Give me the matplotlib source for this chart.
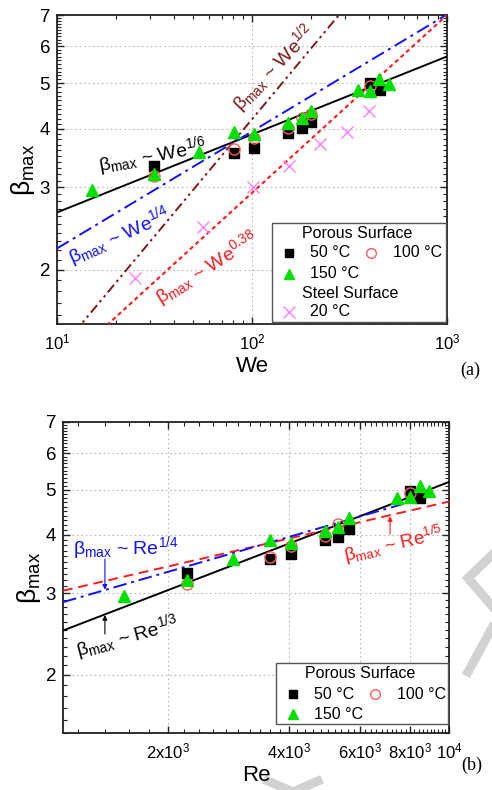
import matplotlib
matplotlib.use("Agg")
import matplotlib.pyplot as plt
import numpy as np
from matplotlib.ticker import FixedLocator, FixedFormatter, NullFormatter
from matplotlib.patches import Rectangle
from matplotlib.lines import Line2D

plt.rcParams['font.family'] = ['Liberation Sans', 'DejaVu Sans']
plt.rcParams['mathtext.fontset'] = 'custom'
plt.rcParams['mathtext.rm'] = 'Liberation Sans'
plt.rcParams['mathtext.it'] = 'Liberation Sans:italic'
plt.rcParams['mathtext.bf'] = 'Liberation Sans:bold'

# ---------------- data: panel (a) -----------------
we_50 = [31.4, 81, 102, 153, 180, 201, 403, 453]
b_we_50 = [3.33, 3.55, 3.63, 3.91, 4.01, 4.13, 5.00, 4.84]
we_100 = [31.4, 81, 102, 153, 180, 201, 403]
b_we_100 = [3.17, 3.62, 3.82, 4.01, 4.21, 4.29, 4.93]
we_150 = [15.1, 31.4, 53.5, 81, 102, 153, 180, 201, 350, 403, 448, 505]
b_we_150 = [2.96, 3.20, 3.56, 3.93, 3.89, 4.11, 4.21, 4.36, 4.84, 4.82, 5.12, 4.98]
we_steel = [25.1, 56.1, 101, 155, 223, 307, 398]
b_we_steel = [1.92, 2.47, 3.00, 3.33, 3.71, 3.93, 4.36]

# fitted power laws: (coefficient, exponent)
fit_we16 = (1.805, 1/6)
fit_we14 = (1.248, 1/4)
fit_we12 = (0.419, 1/2)
fit_we038 = (0.507, 0.38)

# ---------------- data: panel (b) -----------------
re_50 = [2241, 3590, 4046, 4935, 5314, 5657, 8000, 8470]
b_re_50 = [3.31, 3.55, 3.64, 3.90, 3.96, 4.12, 4.98, 4.81]
re_100 = [2241, 3590, 4046, 4935, 5314, 8000]
b_re_100 = [3.14, 3.58, 3.79, 3.98, 4.22, 4.93]
re_150 = [1558, 2241, 2910, 3590, 4046, 4935, 5314, 5657, 7430, 8000, 8470, 8920]
b_re_150 = [2.96, 3.20, 3.55, 3.90, 3.85, 4.08, 4.17, 4.36, 4.81, 4.82, 5.09, 4.97]

fit_re13 = (0.2414, 1/3)
fit_re14 = (0.498, 1/4)
fit_re15 = (0.748, 1/5)

re_ticks = [2000, 4000, 6000, 8000, 10000]
re_ticklabels = [r'2x10$^3$', r'4x10$^3$', r'6x10$^3$', r'8x10$^3$', r'10$^4$']
beta_ticks = [2, 3, 4, 5, 6, 7]

C_BLACK = 'black'
C_RED_O = '#ff5a5a'
C_GREEN = '#00e000'
C_PINK = '#ff80ff'
C_BLUE = '#1010ff'
C_RED = '#ff1a1a'
C_DRED = '#7a1a1a'

BMAX = r'β$_{\rm max}$'

fig = plt.figure(figsize=(4.92, 7.90), dpi=100)
ax1 = fig.add_axes([57/492, 1-324/790, 390/492, 309/790])
ax2 = fig.add_axes([63/492, 1-733/790, 386/492, 311/790])


def style_axes(ax):
    for s in ax.spines.values():
        s.set_linewidth(1.3)
        s.set_color('#222222')
    ax.tick_params(which='both', direction='in', top=True, right=True,
                   color='#222222')
    ax.tick_params(which='major', length=5, width=1.0)
    ax.tick_params(which='minor', length=2.8, width=0.8)
    ax.tick_params(axis='y', which='major', labelsize=13.5, pad=5)
    ax.tick_params(axis='x', which='major', labelsize=12, pad=6)
    ax.grid(True, which='major', color='#b8b8b8', linestyle=(0, (1.5, 2.5)),
            linewidth=0.8)
    ax.set_axisbelow(True)
    ax.set_yscale('log')
    ax.yaxis.set_major_locator(FixedLocator(beta_ticks))
    ax.yaxis.set_major_formatter(FixedFormatter([str(t) for t in beta_ticks]))
    ax.yaxis.set_minor_locator(FixedLocator(np.round(np.arange(1.5, 7.0, 0.1), 2)))
    ax.yaxis.set_minor_formatter(NullFormatter())
    ax.set_ylabel(BMAX, fontsize=19, labelpad=2)


def plot_points(ax, x50, y50, x100, y100, x150, y150):
    ax.plot(x50, y50, 's', color=C_BLACK, ms=6.5, zorder=5, lw=0)
    ax.plot(x100, y100, 'o', mfc='none', mec=C_RED_O, mew=1.0, ms=8, zorder=5, lw=0)
    ax.plot(x150, y150, '^', color=C_GREEN, ms=8.5, zorder=5, lw=0)


def fit_line(ax, fit, x0, x1, **kw):
    c, p = fit
    xs = np.logspace(np.log10(x0), np.log10(x1), 200)
    ax.plot(xs, c * xs ** p, **kw)


def manual_legend(ax, box, rows):
    x0, y0, x1, y1 = box
    ax.add_patch(Rectangle((x0, y0), x1 - x0, y1 - y0, transform=ax.transAxes,
                           facecolor='white', edgecolor='#555555', lw=1.0,
                           zorder=8))
    for r in rows:
        kind = r[0]
        if kind == 'header':
            _, txt, xc, yc = r
            ax.text(xc, yc, txt, transform=ax.transAxes, ha='center',
                    va='center', fontsize=11.5, zorder=9)
        else:
            _, mk, kw, xm, xt, yc, txt = r
            ax.plot([xm], [yc], mk, transform=ax.transAxes, zorder=9,
                    clip_on=False, **kw)
            ax.text(xt, yc, txt, transform=ax.transAxes, ha='left',
                    va='center', fontsize=11.5, zorder=9)


# ---------------- panel (a) -----------------
style_axes(ax1)
ax1.set_xscale('log')
ax1.set_xlim(10, 1000)
ax1.set_ylim(1.53, 7)
ax1.xaxis.set_minor_formatter(NullFormatter())
ax1.set_xlabel('We', fontsize=16, labelpad=3)

fit_line(ax1, fit_we16, 10, 1000, color=C_BLACK, lw=1.4, zorder=3)
fit_line(ax1, fit_we14, 10, 1000, color=C_BLUE, lw=1.4,
         linestyle=(0, (7, 2.5, 1.5, 2.5)), zorder=3)
fit_line(ax1, fit_we12, 10, 1000, color=C_DRED, lw=1.4,
         linestyle=(0, (5, 2, 1.3, 2, 1.3, 2)), zorder=3)
fit_line(ax1, fit_we038, 10, 1000, color=C_RED, lw=1.5,
         linestyle=(0, (2, 1.6)), zorder=3)

plot_points(ax1, we_50, b_we_50, we_100, b_we_100, we_150, b_we_150)
ax1.plot(we_steel, b_we_steel, 'x', color=C_PINK, ms=9, mew=1.0, lw=0, zorder=5)

ax1.text(16.6, 3.25, BMAX + r' ~ We$^{1/6}$', color=C_BLACK,
         fontsize=14, rotation=10, rotation_mode='anchor', ha='left', va='baseline')
ax1.text(11.9, 2.06, BMAX + r' ~ We$^{1/4}$', color=C_BLUE,
         fontsize=14, rotation=24, rotation_mode='anchor', ha='left', va='baseline')
ax1.text(33.7, 1.69, BMAX + r' ~ We$^{0.38}$', color=C_RED,
         fontsize=14, rotation=32, rotation_mode='anchor', ha='left', va='baseline')
ax1.text(86.7, 4.36, BMAX + r' ~ We$^{1/2}$', color=C_DRED,
         fontsize=14, rotation=46, rotation_mode='anchor', ha='left', va='baseline')

manual_legend(ax1, (0.551, 0.0065, 0.997, 0.327), [
    ('header', 'Porous Surface', 0.769, 0.294),
    ('item', 's', dict(color=C_BLACK, ms=5.5), 0.595, 0.649, 0.230, '50 °C'),
    ('item', 'o', dict(mfc='none', mec=C_RED_O, mew=1.0, ms=7), 0.805, 0.862, 0.230, '100 °C'),
    ('item', '^', dict(color=C_GREEN, ms=7.5), 0.595, 0.649, 0.162, '150 °C'),
    ('header', 'Steel Surface', 0.751, 0.100),
    ('item', 'x', dict(color=C_PINK, ms=8, mew=1.0), 0.595, 0.649, 0.039, '20 °C'),
])

fig.text(470/492, 1-370/790, '(a)', fontsize=13, family='Liberation Serif',
         ha='center', va='center')

# ---------------- panel (b) -----------------
style_axes(ax2)
ax2.set_xscale('log')
ax2.set_xlim(1100, 10000)
ax2.set_ylim(1.5, 7)
ax2.xaxis.set_major_locator(FixedLocator(re_ticks))
ax2.xaxis.set_major_formatter(FixedFormatter(re_ticklabels))
ax2.xaxis.set_minor_locator(FixedLocator(np.arange(1200, 10000, 200)))
ax2.xaxis.set_minor_formatter(NullFormatter())
ax2.set_xlabel('Re', fontsize=16, labelpad=3)

fit_line(ax2, fit_re13, 1100, 10000, color=C_BLACK, lw=1.4, zorder=3)
fit_line(ax2, fit_re15, 1100, 10000, color=C_RED, lw=1.4,
         linestyle=(0, (5, 3)), zorder=3)
fit_line(ax2, fit_re14, 1100, 8900, color=C_BLUE, lw=1.4,
         linestyle=(0, (7, 2.5, 1.5, 2.5)), zorder=3)

plot_points(ax2, re_50, b_re_50, re_100, b_re_100, re_150, b_re_150)

ax2.text(1166, 3.64, BMAX + r' ~ Re$^{1/4}$', color=C_BLUE,
         fontsize=14, ha='left', va='baseline')
ax2.annotate('', xy=(1398, 3.05), xytext=(1398, 3.55),
             arrowprops=dict(arrowstyle='-|>', color=C_BLUE, lw=0.8,
                             mutation_scale=7, shrinkA=0, shrinkB=0))
ax2.text(1200, 2.19, BMAX + r' ~ Re$^{1/3}$', color=C_BLACK,
         fontsize=14, rotation=15, rotation_mode='anchor', ha='left', va='baseline')
ax2.annotate('', xy=(1398, 2.69), xytext=(1398, 2.45),
             arrowprops=dict(arrowstyle='-|>', color=C_BLACK, lw=0.8,
                             mutation_scale=7, shrinkA=0, shrinkB=0))
ax2.text(5550, 3.50, BMAX + r' ~ Re$^{1/5}$', color=C_RED,
         fontsize=13.5, rotation=13, rotation_mode='anchor', ha='left', va='baseline')
ax2.annotate('', xy=(7140, 4.39), xytext=(7140, 4.02),
             arrowprops=dict(arrowstyle='-|>', color=C_RED, lw=0.8,
                             mutation_scale=7, shrinkA=0, shrinkB=0))

manual_legend(ax2, (0.552, 0.029, 0.997, 0.225), [
    ('header', 'Porous Surface', 0.769, 0.190),
    ('item', 's', dict(color=C_BLACK, ms=5.5), 0.596, 0.650, 0.125, '50 °C'),
    ('item', 'o', dict(mfc='none', mec=C_RED_O, mew=1.0, ms=7), 0.808, 0.865, 0.125, '100 °C'),
    ('item', '^', dict(color=C_GREEN, ms=7.5), 0.596, 0.650, 0.061, '150 °C'),
])

fig.text(472/492, 1-765/790, '(b)', fontsize=13, family='Liberation Serif',
         ha='center', va='center')

# faint grey watermark fragments at the page edge
WM = '#d2d2d2'
for xs, ys in [([492, 468, 492], [555, 578, 606]),
               ([468, 492], [672, 628]),
               ([268, 293, 318], [781, 792, 781])]:
    fig.add_artist(Line2D([x / 492 for x in xs], [1 - y / 790 for y in ys],
                          transform=fig.transFigure, color=WM, lw=6.5,
                          solid_joinstyle='miter', zorder=0))

fig.savefig('out.png', dpi=100)
